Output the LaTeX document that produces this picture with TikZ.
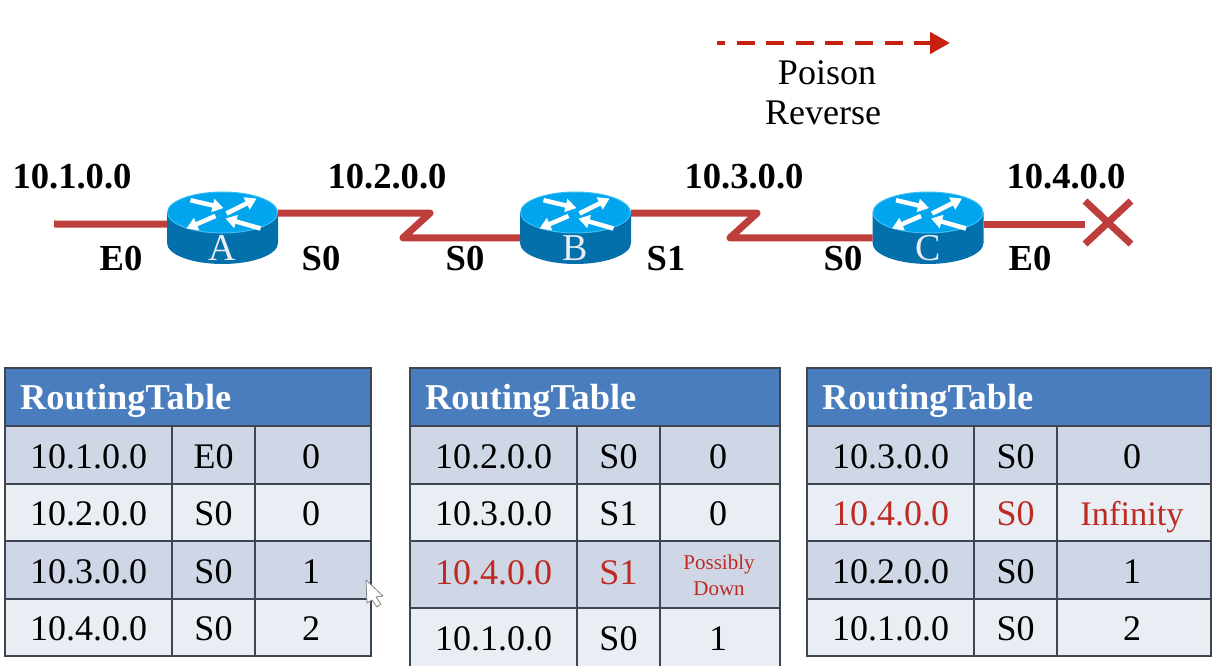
\documentclass[tikz,border=0pt]{standalone}
\usepackage{fontspec}
\setmainfont{Liberation Serif}
\usepackage{tikz}
\usetikzlibrary{arrows.meta, shapes.misc}
\usepackage{xcolor}
\definecolor{wirered}{RGB}{190,62,60}
\definecolor{poisonred}{RGB}{200,32,14}
\definecolor{tablered}{RGB}{190,42,34}
\definecolor{routertop}{RGB}{0,165,238}
\definecolor{routerrim}{RGB}{60,190,245}
\definecolor{routerside}{RGB}{3,112,172}
\definecolor{headblue}{RGB}{73,125,190}
\definecolor{rowdark}{RGB}{207,215,231}
\definecolor{rowlight}{RGB}{233,237,244}
\definecolor{gridgray}{RGB}{62,70,82}

\tikzset{
    bigtext/.style={font=\fontsize{36}{40}\selectfont, inner sep=0pt, text height=24.3pt, text depth=0pt},
    nettext/.style={bigtext, font=\fontsize{36.6}{40}\selectfont\bfseries},
    routerbox/.style={shape=rectangle, minimum width=111pt, minimum height=72pt, inner sep=0pt, outer sep=0pt},
    routerarrow/.style={white, line width=4.5pt, -{Triangle[length=11pt, width=13pt]}},
    wire/.style={wirered, line width=7pt, line join=round},
    cellbox/.style={draw=gridgray, line width=1.2pt},
    headtext/.style={bigtext, font=\fontsize{36.4}{40}\selectfont\bfseries, text=white, anchor=west}
}

% router: name, position, letter
\newcommand{\router}[3]{
    \node[routerbox] (#1) at (#2) {};
    \begin{scope}[shift={(#1)}]
        \fill[routerside] (-55.5pt, 15.5pt) -- (-55.5pt, -15pt) arc (180:360:55.5pt and 21pt) -- (55.5pt, 15.5pt) -- cycle;
        \filldraw[fill=routertop, draw=routerrim, line width=1pt] (0pt, 15.5pt) ellipse (55pt and 20.5pt);
        \draw[routerarrow] (-32pt, 27.8pt) -- (1pt, 20pt);
        \draw[routerarrow] (4pt, 14.5pt) -- (34pt, 29.5pt);
        \draw[routerarrow] (-7pt, 12pt) -- (-36pt, -0.5pt);
        \draw[routerarrow] (38pt, -0.5pt) -- (3pt, 9.5pt);
        \node[font=\fontsize{38}{42}\selectfont, inner sep=0pt, text=rowlight] (#1-letter) at (0pt, -20pt) {#3};
    \end{scope}
}

% routing table: name, four column edges, rows
\newcommand{\routingtable}[6]{
    \draw[cellbox, fill=headblue] (#2, 297pt) rectangle (#5, 239pt);
    \node[headtext] (#1-title) at ([xshift=15pt]#2, 268pt) {RoutingTable};
    \foreach \ytop/\ybot/\rowfill/\rowcolor/\dy/\dest/\port/\cost [count=\n] in {#6} {
        \draw[cellbox, fill=\rowfill] (#2, \ytop) rectangle (#3, \ybot) node[midway, bigtext, text=\rowcolor, yshift=\dy] (#1-\n-dest) {\dest};
        \draw[cellbox, fill=\rowfill] (#3, \ytop) rectangle (#4, \ybot) node[midway, bigtext, text=\rowcolor, yshift=\dy] (#1-\n-port) {\port};
        \draw[cellbox, fill=\rowfill] (#4, \ytop) rectangle (#5, \ybot) node[midway, bigtext, text=\rowcolor, yshift=\dy, xshift=-2pt] (#1-\n-cost) {\cost};
    }
}

\begin{document}
\begin{tikzpicture}
    \useasboundingbox (0pt, 0pt) rectangle (1218pt, 665pt);

    %% Routers
    \router{routerA}{222.5pt, 437pt}{A}
    \router{routerB}{575.5pt, 437pt}{B}
    \router{routerC}{928pt, 437pt}{C}

    %% Links
    \coordinate (lanA) at (54pt, 441pt);
    \node[shape=cross out, draw=wirered, line width=7pt, minimum width=46pt, minimum height=43pt, inner sep=0pt, outer sep=0pt] (downmark) at (1108pt, 442.5pt) {};
    \draw[wire] (lanA) -- (routerA.176);
    \draw[wire] (routerA.15) -- ++(152pt, 0pt) -- ++(-27pt, -24.66pt) -- (routerB.190);
    \draw[wire] (routerB.15) -- ++(126pt, 0pt) -- ++(-27pt, -24.66pt) -- (routerC.190);
    \draw[wire] (routerC.4) -- (routerC.4 -| downmark.west);

    % Network names
    \foreach \x/\name/\nettxt in {72pt/netA/10.1.0.0, 387pt/netB/10.2.0.0, 744pt/netC/10.3.0.0, 1066pt/netD/10.4.0.0} {
        \node[nettext, anchor=base] (\name) at (\x, 476pt) {\nettxt};
    }

    % Interfaces
    \foreach \x/\name/\portname in {121pt/ifA/E0, 321pt/ifB/S0, 465pt/ifC/S0, 666pt/ifD/S1, 843pt/ifE/S0, 1030pt/ifF/E0} {
        \node[nettext, anchor=base] (\name) at (\x, 394pt) {\portname};
    }

    %% Poison reverse
    \coordinate (poisonstart) at (717pt, 622pt);
    \coordinate (poisonend) at (950pt, 622pt);
    \draw[poisonred, line width=4.5pt, dash pattern=on 18pt off 11.6pt, dash phase=10pt, -{Triangle[length=20pt, width=21pt]}] (poisonstart) -- (poisonend);
    \node[bigtext, anchor=base] (poison) at (827pt, 580pt) {Poison};
    \node[bigtext, anchor=base] (reverse) at (823pt, 540pt) {Reverse};

    %% Tables
    \routingtable{tableA}{5pt}{172pt}{255pt}{371pt}{
        239pt/181pt/rowdark/black/-1pt/10.1.0.0/E0/0,
        181pt/124pt/rowlight/black/-1pt/10.2.0.0/S0/0,
        124pt/66pt/rowdark/black/-1pt/10.3.0.0/S0/1,
        66pt/9pt/rowlight/black/-1pt/10.4.0.0/S0/2}

    \routingtable{tableB}{410pt}{577pt}{660pt}{780pt}{
        239pt/181pt/rowdark/black/-1pt/10.2.0.0/S0/0,
        181pt/124pt/rowlight/black/-1pt/10.3.0.0/S1/0,
        124pt/57pt/rowdark/tablered/2.5pt/10.4.0.0/S1/,
        57pt/-2pt/rowlight/black/-1pt/10.1.0.0/S0/1}
    \node[font=\fontsize{21}{26}\selectfont, text=tablered, align=center, inner sep=0pt] (possiblydown) at (719pt, 90pt) {Possibly\\Down};

    \routingtable{tableC}{807pt}{974pt}{1057pt}{1211pt}{
        239pt/181pt/rowdark/black/-1pt/10.3.0.0/S0/0,
        181pt/124pt/rowlight/tablered/-1pt/10.4.0.0/S0/\fontsize{34.4}{40}\selectfont Infinity,
        124pt/66pt/rowdark/black/-1pt/10.2.0.0/S0/1,
        66pt/9pt/rowlight/black/-1pt/10.1.0.0/S0/2}

    % Mouse pointer
    \filldraw[fill=white, draw=gray, line width=0.8pt, line join=round] (366pt, 85pt) -- (367pt, 62pt) -- (372pt, 65pt) -- (377pt, 58pt) -- (381pt, 61pt) -- (376pt, 68pt) -- (383pt, 69pt) -- cycle;
\end{tikzpicture}
\end{document}
